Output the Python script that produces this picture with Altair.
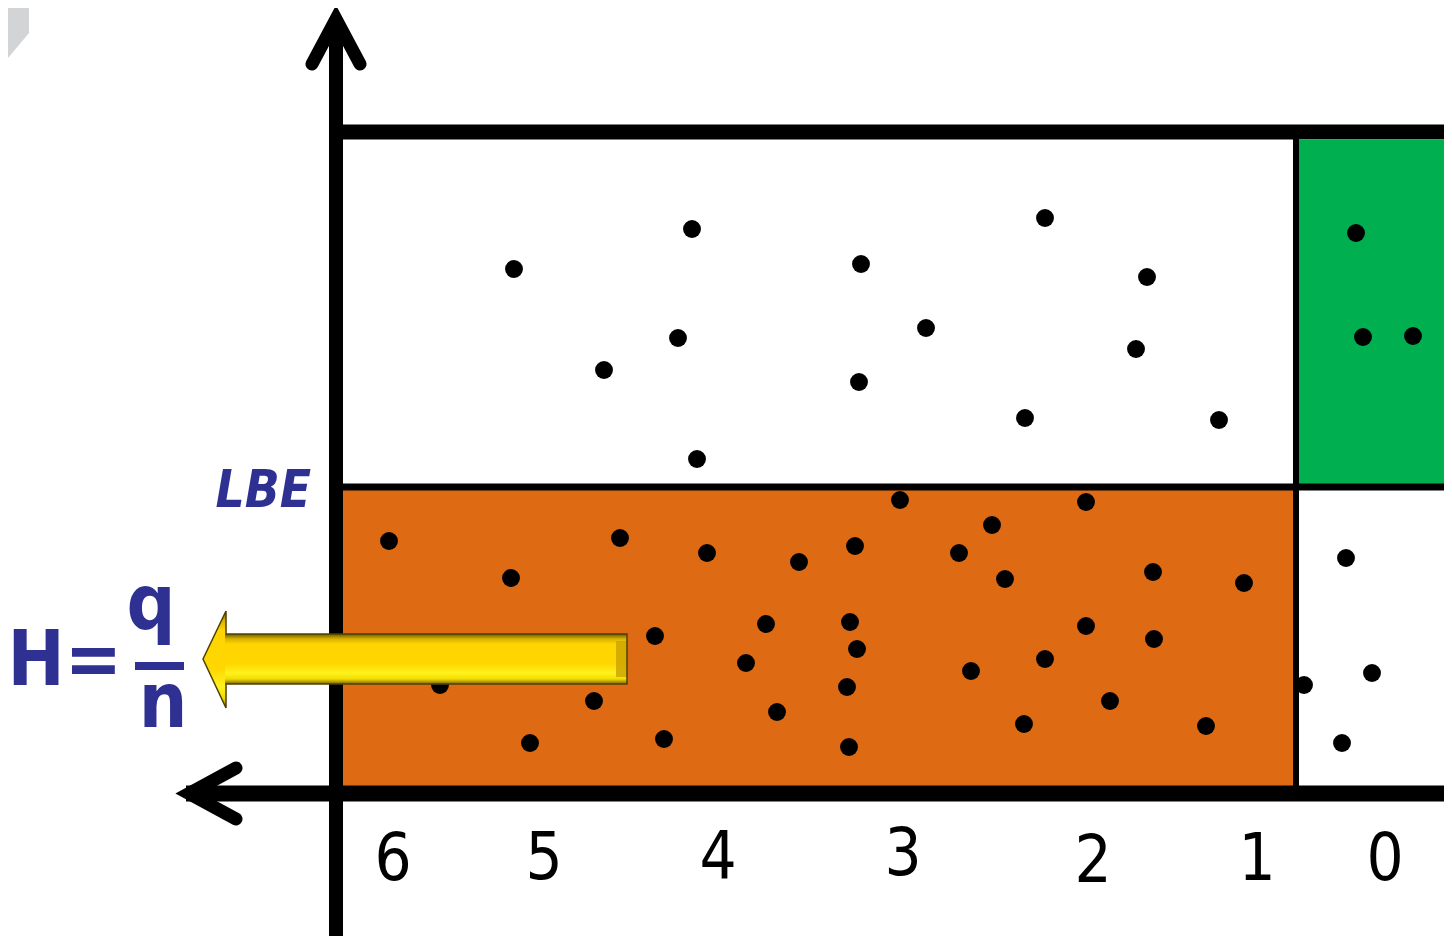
import altair as alt
import pandas as pd

# ---------------- data (diagram coordinates) ----------------
# dots in the upper white region
upper_x = [514, 692, 604, 678, 697, 861, 859, 926, 1045, 1147, 1136, 1025, 1219]
upper_y = [269, 229, 370, 338, 459, 264, 382, 328, 218, 277, 349, 418, 420]
# dots in the green region
green_x = [1356, 1363, 1413]
green_y = [233, 337, 336]
# dots in the lower-right white region
lowright_x = [1346, 1372, 1342, 1304]
lowright_y = [558, 673, 743, 685]
# dots in the orange region
orange_x = [389, 511, 620, 707, 799, 855, 900, 959, 992, 1086, 1005, 1153, 1244,
            655, 766, 850, 857, 746, 847, 777, 594, 530, 664, 849, 971, 1045,
            1086, 1154, 1110, 1024, 1206, 440]
orange_y = [541, 578, 538, 553, 562, 546, 500, 553, 525, 502, 579, 572, 583,
            636, 624, 622, 649, 663, 687, 712, 701, 743, 739, 747, 671, 659,
            626, 639, 701, 724, 726, 685]

# tick labels along the bottom
tick_labels = ["6", "5", "4", "3", "2", "1", "0"]
tick_x = [393, 544, 718, 903, 1093, 1257, 1385]
tick_y = [880, 879, 878, 875, 882, 880, 880]

# regions
region_name = ["orange", "green"]
region_x = [343, 1299]
region_x2 = [1293, 1452]
region_y = [490, 140]
region_y2 = [786, 484]
region_color = ["#DE6A14", "#00B050"]

W, H = 1436, 928
xs = alt.Scale(domain=[8, 1444], nice=False, zero=False)
ys = alt.Scale(domain=[8, 936], nice=False, zero=False, reverse=True)


def X(f="x"):
    return alt.X(f"{f}:Q", scale=xs, axis=None)


def Y(f="y"):
    return alt.Y(f"{f}:Q", scale=ys, axis=None)


layers = []

# grey logo fragment (top-left)
logo = pd.DataFrame({"x": [8, 29], "y": [8, 8], "y2": [58, 33]})
layers.append(alt.Chart(logo).mark_area(color="#D3D4D5").encode(
    x=X(), y=Y(), y2=alt.Y2("y2:Q")))

# coloured regions
reg = pd.DataFrame({"name": region_name, "x": region_x, "x2": region_x2,
                    "y": region_y, "y2": region_y2, "c": region_color})
layers.append(alt.Chart(reg).mark_rect().encode(
    x=X(), x2=alt.X2("x2:Q"), y=Y(), y2=alt.Y2("y2:Q"),
    color=alt.Color("c:N", scale=None)))

# dots
dots = pd.DataFrame({
    "x": upper_x + green_x + lowright_x + orange_x,
    "y": upper_y + green_y + lowright_y + orange_y,
})
layers.append(alt.Chart(dots).mark_circle(size=320, color="black", opacity=1).encode(
    x=X(), y=Y()))

# frame lines: horizontal
hlines = pd.DataFrame({
    "x": [330, 335, 186],
    "x2": [1452, 1452, 1452],
    "y": [132, 487, 793.5],
    "w": [15, 7, 16],
})
for _, r in hlines.iterrows():
    layers.append(alt.Chart(pd.DataFrame([r])).mark_rule(
        color="black", strokeWidth=float(r["w"])).encode(
        x=X(), x2=alt.X2("x2:Q"), y=Y()))

# frame lines: vertical
vlines = pd.DataFrame({
    "x": [336, 1296],
    "y": [22, 132],
    "y2": [944, 793],
    "w": [14, 6],
})
for _, r in vlines.iterrows():
    layers.append(alt.Chart(pd.DataFrame([r])).mark_rule(
        color="black", strokeWidth=float(r["w"])).encode(
        x=X(), y=Y(), y2=alt.Y2("y2:Q")))

# arrowheads of the axes
heads = pd.DataFrame({
    "g": ["up"] * 3 + ["left"] * 3,
    "o": [0, 1, 2, 0, 1, 2],
    "x": [312, 336, 360, 236, 189, 236],
    "y": [64, 19, 64, 768, 793.5, 819],
})
layers.append(alt.Chart(heads).mark_line(
    color="black", strokeWidth=13, strokeCap="round", strokeJoin="miter").encode(
    x=X(), y=Y(), order="o:Q", detail="g:N"))

# yellow arrow
grad = alt.Gradient(
    gradient="linear", x1=0, x2=0, y1=0, y2=1,
    stops=[
        alt.GradientStop(color="#6E5A00", offset=0),
        alt.GradientStop(color="#D9B200", offset=0.1),
        alt.GradientStop(color="#FFD400", offset=0.2),
        alt.GradientStop(color="#FFD700", offset=0.6),
        alt.GradientStop(color="#FFF21E", offset=0.78),
        alt.GradientStop(color="#F2DC00", offset=0.9),
        alt.GradientStop(color="#7D6600", offset=1),
    ])
head = pd.DataFrame({"x": [203, 226], "y": [659, 611], "y2": [659, 708]})
layers.append(alt.Chart(head).mark_area(color=grad).encode(
    x=X(), y=Y(), y2=alt.Y2("y2:Q")))
body = pd.DataFrame({"x": [225], "x2": [627], "y": [634], "y2": [684]})
layers.append(alt.Chart(body).mark_rect(color=grad).encode(
    x=X(), x2=alt.X2("x2:Q"), y=Y(), y2=alt.Y2("y2:Q")))
bevel = pd.DataFrame({"x": [616], "x2": [627], "y": [641], "y2": [677]})
layers.append(alt.Chart(bevel).mark_rect(color="#C9A300", opacity=0.8).encode(
    x=X(), x2=alt.X2("x2:Q"), y=Y(), y2=alt.Y2("y2:Q")))
outline = pd.DataFrame({
    "o": list(range(8)),
    "x": [226, 226, 203, 226, 226, 627, 627, 226],
    "y": [634, 611, 659, 708, 684, 684, 634, 634],
})
layers.append(alt.Chart(outline).mark_line(
    color="#4F4100", strokeWidth=1.5, strokeJoin="miter").encode(
    x=X(), y=Y(), order="o:Q"))

# tick labels
ticks = pd.DataFrame({"t": tick_labels, "x": tick_x, "y": tick_y})
layers.append(alt.Chart(ticks).mark_text(
    font="DejaVu Sans Condensed", fontSize=65, color="black",
    align="center", baseline="alphabetic").encode(
    x=X(), y=Y(), text="t:N"))

BLUE = "#2E3192"
# LBE label
lbe = pd.DataFrame({"t": ["LBE"], "x": [311], "y": [507]})
layers.append(alt.Chart(lbe).mark_text(
    font="DejaVu Sans Condensed", fontSize=51, fontWeight="bold",
    fontStyle="italic", color=BLUE, align="right", baseline="alphabetic").encode(
    x=X(), y=Y(), text="t:N"))

# formula H = q / n
formula = pd.DataFrame({
    "t": ["H=", "q", "n"],
    "x": [122, 151, 163],
    "y": [685, 629, 727],
    "a": ["right", "center", "center"],
})
for _, r in formula.iterrows():
    layers.append(alt.Chart(pd.DataFrame([r])).mark_text(
        font="DejaVu Sans Condensed", fontSize=76, fontWeight="bold",
        color=BLUE, align=r["a"], baseline="alphabetic").encode(
        x=X(), y=Y(), text="t:N"))
frac = pd.DataFrame({"x": [135], "x2": [184], "y": [666]})
layers.append(alt.Chart(frac).mark_rule(color=BLUE, strokeWidth=8).encode(
    x=X(), x2=alt.X2("x2:Q"), y=Y()))

chart = alt.layer(*layers).properties(
    width=W, height=H,
    autosize=alt.AutoSizeParams(type="none"),
    padding=0,
    background="white",
).configure_view(strokeWidth=0)

chart.save("out.html", embed_options={"renderer": "svg", "actions": False})
